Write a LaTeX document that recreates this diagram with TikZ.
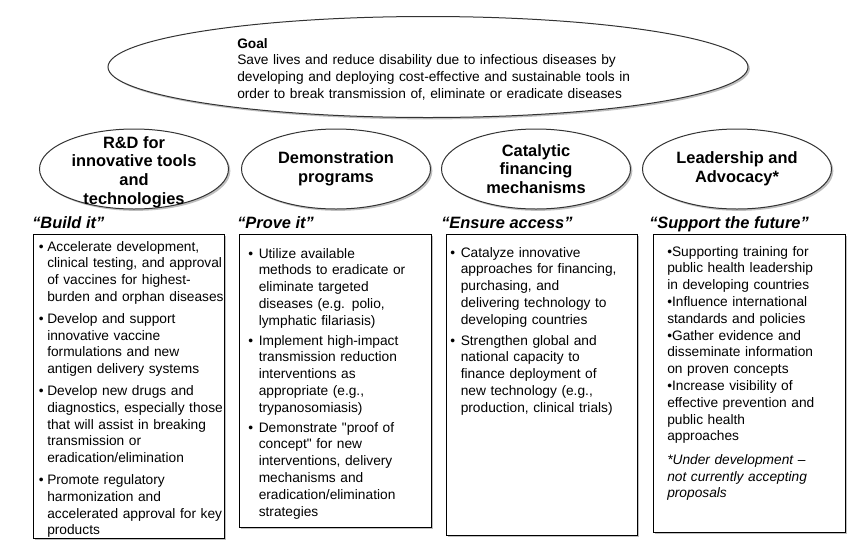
\documentclass[tikz,border=0pt]{standalone}
\usepackage{fontspec}
\setmainfont{Liberation Sans}
\usetikzlibrary{shapes.geometric,shadows}

% one drawing unit
\newlength\pxu
\setlength\pxu{0.75pt}
\newcommand\bodysize{\fontsize{10.3pt}{12.6pt}\selectfont}
\newcommand\headsize{\fontsize{12.3pt}{14pt}\selectfont}
\newlength\itemgap
\setlength\itemgap{3.75pt}
% bullet item with hanging lines; #1 = room taken by the bullet
\newcommand\pitem[2]{{\let\\\newline\hangindent=#1\hangafter=1\noindent\makebox[#1][l]{\textbullet}#2\par}}

\tikzset{
  softshadow/.style={drop shadow={shadow xshift=1.4pt, shadow yshift=-1.4pt, fill=black, opacity=0.25}},
  oval/.style={ellipse, draw=black!80, line width=0.75pt, fill=white, inner sep=0pt, softshadow},
  pillar/.style={oval, minimum width=189\pxu, minimum height=80\pxu},
  pillartext/.style={align=center, inner sep=0pt, font=\headsize\bfseries},
  motto/.style={anchor=base west, inner sep=0pt, font=\headsize\bfseries\itshape},
  panel/.style={rectangle, draw=black, line width=0.8pt, fill=white, anchor=north west, inner sep=0pt, softshadow},
  listtext/.style={anchor=base west, inner sep=0pt, text width=200\pxu, align=left, font=\bodysize},
}

\begin{document}
\begin{tikzpicture}[x=0.75pt, y=-0.75pt]
\useasboundingbox[fill=white] (0,0) rectangle (866,547);

% goal
\node[oval, minimum width=640\pxu, minimum height=101\pxu] (goal) at (428,67) {};
\node[listtext, text width=420\pxu] (goaltext) at (237,48) {\textbf{Goal}\\
Save lives and reduce disability due to infectious diseases by\\
developing and deploying cost-effective and sustainable tools in\\
order to break transmission of, eliminate or eradicate diseases};

% the four pillars
\node[pillar] (e1) at (134,169) {};
\node[pillar] (e2) at (336,169) {};
\node[pillar] (e3) at (536,169) {};
\node[pillar] (e4) at (737,169) {};
\node[pillartext] (e1t) at (134,172) {R\&D for\\innovative tools\\and\\technologies};
\node[pillartext] (e2t) at (e2) {Demonstration\\programs};
\node[pillartext] (e3t) at (e3) {Catalytic\\financing\\mechanisms};
\node[pillartext] (e4t) at (737,169) {Leadership and\\Advocacy*};

% mottos
\node[motto] (m1) at (32,228) {“Build it”};
\node[motto] (m2) at (237,228) {“Prove it”};
\node[motto] (m3) at (441,228) {“Ensure access”};
\node[motto] (m4) at (649,228) {“Support the future”};

% activity panels
\node[panel, minimum width=191\pxu, minimum height=304\pxu] (b1) at (33,234) {};
\node[panel, minimum width=192\pxu, minimum height=293\pxu] (b2) at (239,234) {};
\node[panel, minimum width=191\pxu, minimum height=301\pxu] (b3) at (446,234) {};
\node[panel, minimum width=192\pxu, minimum height=298\pxu] (b4) at (653,234) {};

\node[listtext] (t1) at (38.5,251) {%
\pitem{8.5\pxu}{Accelerate development,\\clinical testing, and approval\\of vaccines for highest-\\burden and orphan diseases}
\vspace{\itemgap}
\pitem{8.5\pxu}{Develop and support\\innovative vaccine\\formulations and new\\antigen delivery systems}
\vspace{\itemgap}
\pitem{8.5\pxu}{Develop new drugs and\\diagnostics, especially those\\that will assist in breaking\\transmission or\\eradication/elimination}
\vspace{\itemgap}
\pitem{8.5\pxu}{Promote regulatory\\harmonization and\\accelerated approval for key\\products}};

\node[listtext] (t2) at (248,258) {%
\pitem{10.5\pxu}{Utilize available\\methods to eradicate or\\eliminate targeted\\diseases (e.g. polio,\\lymphatic filariasis)}
\vspace{2.25pt}
\pitem{10.5\pxu}{Implement high-impact\\transmission reduction\\interventions as\\appropriate (e.g.,\\trypanosomiasis)}
\vspace{2.25pt}
\pitem{10.5\pxu}{Demonstrate \textquotedbl proof of\\concept\textquotedbl{} for new\\interventions, delivery\\mechanisms and\\eradication/elimination\\strategies}};

\node[listtext] (t3) at (450,257) {%
\pitem{10.5\pxu}{Catalyze innovative\\approaches for financing,\\purchasing, and\\delivering technology to\\developing countries}
\vspace{3pt}
\pitem{10.5\pxu}{Strengthen global and\\national capacity to\\finance deployment of\\new technology (e.g.,\\production, clinical trials)}};

\node[listtext] (t4) at (667,256) {%
\textbullet Supporting training for\\public health leadership\\in developing countries\\
\textbullet Influence international\\standards and policies\\
\textbullet Gather evidence and\\disseminate information\\on proven concepts\\
\textbullet Increase visibility of\\effective prevention and\\public health\\approaches\par
\vspace{5pt}
\textit{*Under development –\\not currently accepting\\proposals}};
\end{tikzpicture}
\end{document}
